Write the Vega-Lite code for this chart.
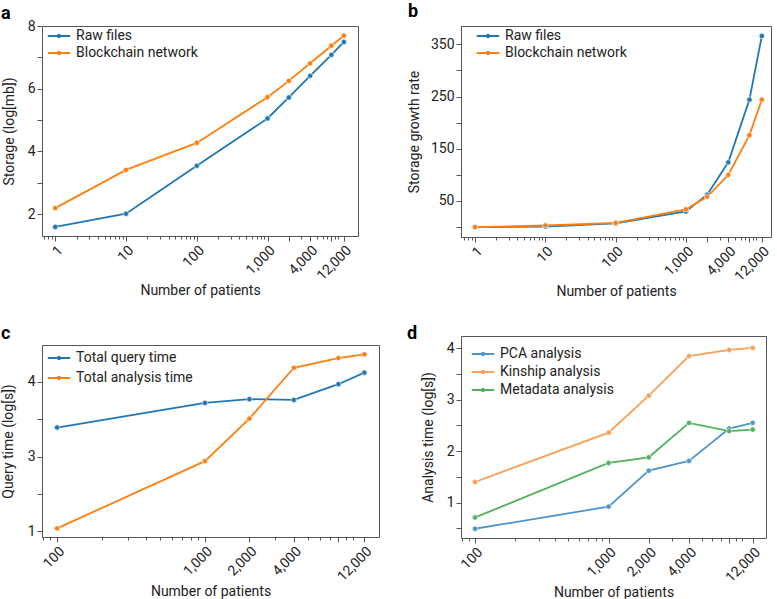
{
  "$schema": "https://vega.github.io/schema/vega-lite/v6.json",
  "padding": {"left": 0, "top": 2, "right": 0, "bottom": 0},
  "background": "white",
  "config": {
    "font": "Roboto",
    "view": {"stroke": "#555555", "strokeWidth": 1},
    "axis": {"domain": false, "grid": false, "tickColor": "#555555", "tickSize": 5, "labelFontSize": 14, "titleFontSize": 14, "titleFontWeight": "normal", "labelColor": "#222222", "titleColor": "#222222", "labelPadding": 2, "labelOverlap": false, "labelFlush": false},
    "legend": {"orient": "none", "title": null, "symbolSize": 256, "symbolStrokeWidth": 2, "labelFontSize": 14, "labelColor": "#222222", "labelOffset": 8, "rowPadding": 1, "symbolType": "M-1.4,0H1.4M-0.15,0A0.15,0.15,0,1,0,0.15,0A0.15,0.15,0,1,0,-0.15,0"},
    "title": {"fontSize": 18, "fontWeight": "bold", "anchor": "start", "color": "#000000", "frame": "group"}
  },
  "datasets": {
    "a": [
      {"patients": 1, "series": "Raw files", "value": 1.59},
      {"patients": 10, "series": "Raw files", "value": 2.01},
      {"patients": 100, "series": "Raw files", "value": 3.54},
      {"patients": 1000, "series": "Raw files", "value": 5.05},
      {"patients": 2000, "series": "Raw files", "value": 5.72},
      {"patients": 4000, "series": "Raw files", "value": 6.41},
      {"patients": 8000, "series": "Raw files", "value": 7.08},
      {"patients": 12000, "series": "Raw files", "value": 7.49},
      {"patients": 1, "series": "Blockchain network", "value": 2.19},
      {"patients": 10, "series": "Blockchain network", "value": 3.41},
      {"patients": 100, "series": "Blockchain network", "value": 4.27},
      {"patients": 1000, "series": "Blockchain network", "value": 5.73},
      {"patients": 2000, "series": "Blockchain network", "value": 6.25},
      {"patients": 4000, "series": "Blockchain network", "value": 6.81},
      {"patients": 8000, "series": "Blockchain network", "value": 7.37},
      {"patients": 12000, "series": "Blockchain network", "value": 7.69}
    ],
    "b": [
      {"patients": 1, "series": "Raw files", "value": 0},
      {"patients": 10, "series": "Raw files", "value": 1},
      {"patients": 100, "series": "Raw files", "value": 7},
      {"patients": 1000, "series": "Raw files", "value": 30},
      {"patients": 2000, "series": "Raw files", "value": 62},
      {"patients": 4000, "series": "Raw files", "value": 124},
      {"patients": 8000, "series": "Raw files", "value": 244},
      {"patients": 12000, "series": "Raw files", "value": 366},
      {"patients": 1, "series": "Blockchain network", "value": 0},
      {"patients": 10, "series": "Blockchain network", "value": 3},
      {"patients": 100, "series": "Blockchain network", "value": 8},
      {"patients": 1000, "series": "Blockchain network", "value": 34},
      {"patients": 2000, "series": "Blockchain network", "value": 58},
      {"patients": 4000, "series": "Blockchain network", "value": 100},
      {"patients": 8000, "series": "Blockchain network", "value": 176},
      {"patients": 12000, "series": "Blockchain network", "value": 244}
    ],
    "c": [
      {"patients": 100, "series": "Total query time", "value": 3.39},
      {"patients": 1000, "series": "Total query time", "value": 3.72},
      {"patients": 2000, "series": "Total query time", "value": 3.77},
      {"patients": 4000, "series": "Total query time", "value": 3.76},
      {"patients": 8000, "series": "Total query time", "value": 3.97},
      {"patients": 12000, "series": "Total query time", "value": 4.125},
      {"patients": 100, "series": "Total analysis time", "value": 2.04},
      {"patients": 1000, "series": "Total analysis time", "value": 2.94},
      {"patients": 2000, "series": "Total analysis time", "value": 3.51},
      {"patients": 4000, "series": "Total analysis time", "value": 4.19},
      {"patients": 8000, "series": "Total analysis time", "value": 4.32},
      {"patients": 12000, "series": "Total analysis time", "value": 4.37}
    ],
    "d": [
      {"patients": 100, "series": "PCA analysis", "value": 0.49},
      {"patients": 1000, "series": "PCA analysis", "value": 0.92},
      {"patients": 2000, "series": "PCA analysis", "value": 1.62},
      {"patients": 4000, "series": "PCA analysis", "value": 1.81},
      {"patients": 8000, "series": "PCA analysis", "value": 2.44},
      {"patients": 12000, "series": "PCA analysis", "value": 2.55},
      {"patients": 100, "series": "Kinship analysis", "value": 1.40},
      {"patients": 1000, "series": "Kinship analysis", "value": 2.36},
      {"patients": 2000, "series": "Kinship analysis", "value": 3.08},
      {"patients": 4000, "series": "Kinship analysis", "value": 3.85},
      {"patients": 8000, "series": "Kinship analysis", "value": 3.97},
      {"patients": 12000, "series": "Kinship analysis", "value": 4.01},
      {"patients": 100, "series": "Metadata analysis", "value": 0.71},
      {"patients": 1000, "series": "Metadata analysis", "value": 1.77},
      {"patients": 2000, "series": "Metadata analysis", "value": 1.88},
      {"patients": 4000, "series": "Metadata analysis", "value": 2.55},
      {"patients": 8000, "series": "Metadata analysis", "value": 2.39},
      {"patients": 12000, "series": "Metadata analysis", "value": 2.42}
    ]
  },
  "bounds": "full",
  "spacing": 26,
  "resolve": {"scale": {"x": "independent", "y": "independent", "color": "independent"}, "legend": {"color": "independent"}, "axis": {"x": "independent", "y": "independent"}},
  "hconcat": [
    {
      "vconcat": [
        {
          "title": {"text": "a", "dx": -41, "offset": -4},
          "width": 316, "height": 210,
          "data": {"name": "a"},
          "layer": [
            {
              "mark": {"type": "line", "strokeWidth": 1.8, "point": {"filled": true, "size": 28, "stroke": "white", "strokeWidth": 0.6}},
              "encoding": {
                "x": {"field": "patients", "type": "quantitative", "scale": {"type": "log", "domain": [0.65, 19000], "nice": false}, "axis": {"orient": "bottom", "values": [1, 10, 100, 1000, 2000, 4000, 8000, 12000], "labelExpr": "indexof([1,10,100,1000,4000,12000], datum.value) >= 0 ? format(datum.value, ',') : ''", "labelAngle": -45, "title": "Number of patients", "titlePadding": 1}},
                "y": {"field": "value", "type": "quantitative", "scale": {"domain": [1.3, 8], "nice": false, "zero": false}, "axis": {"values": [2, 3, 4, 5, 6, 7, 8], "labelExpr": "datum.value % 2 == 0 ? format(datum.value, 'd') : ''", "title": "Storage (log[mb])", "titlePadding": 11}},
                "color": {"field": "series", "type": "nominal", "sort": ["Raw files", "Blockchain network"], "scale": {"domain": ["Raw files", "Blockchain network"], "range": ["#1f77b4", "#ff7f0e"]}, "legend": {"legendX": 8, "legendY": 1}}
              }
            },
            {
              "mark": {"type": "point", "opacity": 0},
              "encoding": {
                "x": {"field": "patients", "type": "quantitative", "scale": {"type": "log", "domain": [0.65, 19000], "nice": false}, "axis": {"orient": "bottom", "values": [0.7, 0.8, 0.9, 2, 3, 4, 5, 6, 7, 8, 9, 20, 30, 40, 50, 60, 70, 80, 90, 200, 300, 400, 500, 600, 700, 800, 900, 3000, 5000, 6000, 7000, 9000, 10000], "labels": false, "tickSize": 3, "title": null}}
              }
            }
          ],
          "resolve": {"axis": {"x": "independent"}}
        },
        {
          "title": {"text": "c", "dx": -41, "offset": 2},
          "width": 337, "height": 192,
          "data": {"name": "c"},
          "layer": [
            {
              "mark": {"type": "line", "strokeWidth": 1.8, "point": {"filled": true, "size": 28, "stroke": "white", "strokeWidth": 0.6}},
              "encoding": {
                "x": {"field": "patients", "type": "quantitative", "scale": {"type": "log", "domain": [79, 15070], "nice": false}, "axis": {"orient": "bottom", "values": [100, 1000, 2000, 4000, 8000, 12000], "labelExpr": "datum.value == 8000 ? '' : format(datum.value, ',')", "labelAngle": -45, "title": "Number of patients", "titlePadding": 1}},
                "y": {"field": "value", "type": "quantitative", "scale": {"domain": [1.924, 4.495], "nice": false, "zero": false}, "axis": {"values": [2, 2.5, 3, 3.5, 4], "labelExpr": "datum.value == 2 ? '1' : (datum.value % 1 == 0 ? format(datum.value, 'd') : '')", "title": "Query time (log[s])", "titlePadding": 12}},
                "color": {"field": "series", "type": "nominal", "sort": ["Total query time", "Total analysis time"], "scale": {"domain": ["Total query time", "Total analysis time"], "range": ["#1f77b4", "#ff7f0e"]}, "legend": {"legendX": 8, "legendY": 4, "rowPadding": 4}}
              }
            },
            {
              "mark": {"type": "point", "opacity": 0},
              "encoding": {
                "x": {"field": "patients", "type": "quantitative", "scale": {"type": "log", "domain": [79, 15070], "nice": false}, "axis": {"orient": "bottom", "values": [80, 90, 200, 300, 400, 500, 600, 700, 800, 900, 3000, 5000, 6000, 7000, 9000, 10000], "labels": false, "tickSize": 3, "title": null}}
              }
            }
          ],
          "resolve": {"axis": {"x": "independent"}}
        }
      ],
      "bounds": "flush",
      "spacing": 109,
      "resolve": {"scale": {"x": "independent", "y": "independent", "color": "independent"}, "legend": {"color": "independent"}, "axis": {"x": "independent", "y": "independent"}}
    },
    {
      "vconcat": [
        {
          "title": {"text": "b", "dx": -53, "offset": 5},
          "width": 310, "height": 211,
          "data": {"name": "b"},
          "layer": [
            {
              "mark": {"type": "line", "strokeWidth": 1.8, "point": {"filled": true, "size": 28, "stroke": "white", "strokeWidth": 0.6}},
              "encoding": {
                "x": {"field": "patients", "type": "quantitative", "scale": {"type": "log", "domain": [0.632, 16200], "nice": false}, "axis": {"orient": "bottom", "values": [1, 10, 100, 1000, 2000, 4000, 8000, 12000], "labelExpr": "indexof([1,10,100,1000,4000,12000], datum.value) >= 0 ? format(datum.value, ',') : ''", "labelAngle": -45, "title": "Number of patients", "titlePadding": 1}},
                "y": {"field": "value", "type": "quantitative", "scale": {"domain": [-19, 385], "nice": false, "zero": false}, "axis": {"values": [0, 50, 100, 150, 200, 250, 300, 350], "labelExpr": "datum.value % 100 == 50 ? format(datum.value, 'd') : ''", "title": "Storage growth rate", "titlePadding": 9}},
                "color": {"field": "series", "type": "nominal", "sort": ["Raw files", "Blockchain network"], "scale": {"domain": ["Raw files", "Blockchain network"], "range": ["#1f77b4", "#ff7f0e"]}, "legend": {"legendX": 18, "legendY": 1}}
              }
            },
            {
              "mark": {"type": "point", "opacity": 0},
              "encoding": {
                "x": {"field": "patients", "type": "quantitative", "scale": {"type": "log", "domain": [0.632, 16200], "nice": false}, "axis": {"orient": "bottom", "values": [0.7, 0.8, 0.9, 2, 3, 4, 5, 6, 7, 8, 9, 20, 30, 40, 50, 60, 70, 80, 90, 200, 300, 400, 500, 600, 700, 800, 900, 3000, 5000, 6000, 7000, 9000, 10000], "labels": false, "tickSize": 3, "title": null}}
              }
            }
          ],
          "resolve": {"axis": {"x": "independent"}}
        },
        {
          "title": {"text": "d", "dx": -54, "offset": -3, "dy": 4},
          "width": 305, "height": 202,
          "data": {"name": "d"},
          "layer": [
            {
              "mark": {"type": "line", "strokeWidth": 1.8, "point": {"filled": true, "size": 28, "stroke": "white", "strokeWidth": 0.6}},
              "encoding": {
                "x": {"field": "patients", "type": "quantitative", "scale": {"type": "log", "domain": [78.5, 15100], "nice": false}, "axis": {"orient": "bottom", "values": [100, 1000, 2000, 4000, 8000, 12000], "labelExpr": "datum.value == 8000 ? '' : format(datum.value, ',')", "labelAngle": -45, "title": "Number of patients", "titlePadding": 1}},
                "y": {"field": "value", "type": "quantitative", "scale": {"domain": [0.31, 4.24], "nice": false, "zero": false}, "axis": {"values": [0.5, 1, 1.5, 2, 2.5, 3, 3.5, 4], "labelExpr": "datum.value % 1 == 0 ? format(datum.value, 'd') : ''", "title": "Analysis time (log[s])", "titlePadding": 11}},
                "color": {"field": "series", "type": "nominal", "sort": ["PCA analysis", "Kinship analysis", "Metadata analysis"], "scale": {"domain": ["PCA analysis", "Kinship analysis", "Metadata analysis"], "range": ["#4a96cc", "#fa9f55", "#52b25a"]}, "legend": {"legendX": 13, "legendY": 9, "rowPadding": 2}}
              }
            },
            {
              "mark": {"type": "point", "opacity": 0},
              "encoding": {
                "x": {"field": "patients", "type": "quantitative", "scale": {"type": "log", "domain": [78.5, 15100], "nice": false}, "axis": {"orient": "bottom", "values": [80, 90, 200, 300, 400, 500, 600, 700, 800, 900, 3000, 5000, 6000, 7000, 9000, 10000], "labels": false, "tickSize": 3, "title": null}}
              }
            }
          ],
          "resolve": {"axis": {"x": "independent"}}
        }
      ],
      "bounds": "flush",
      "spacing": 99,
      "resolve": {"scale": {"x": "independent", "y": "independent", "color": "independent"}, "legend": {"color": "independent"}, "axis": {"x": "independent", "y": "independent"}}
    }
  ]
}
